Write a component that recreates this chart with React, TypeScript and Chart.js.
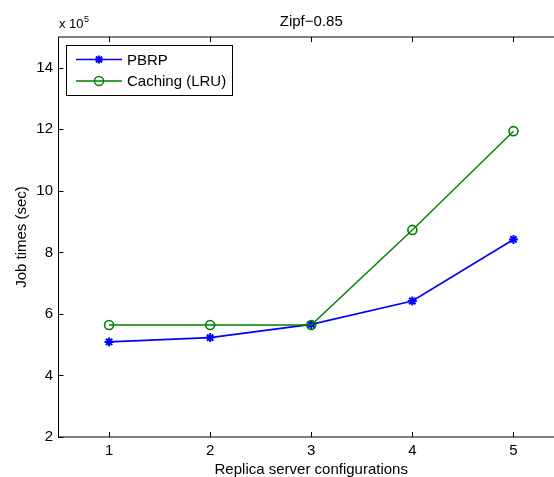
import React, { useEffect, useRef } from "react";
import { Chart, registerables } from "chart.js";

Chart.register(...registerables);

const CATEGORIES = [1, 2, 3, 4, 5];
const PBRP = [5.09, 5.23, 5.66, 6.42, 8.42];
const CACHING = [5.64, 5.64, 5.64, 8.73, 11.94];
const Y_TICKS = [2, 4, 6, 8, 10, 12, 14];
const X_TICKS = [1, 2, 3, 4, 5];

const TITLE = "Zipf\u22120.85";
const X_TITLE = "Replica server configurations";
const Y_TITLE = "Job times (sec)";
const SERIES_NAMES = ["PBRP", "Caching (LRU)"];

const BLUE = "#0000ff";
const GREEN = "#008000";
const FONT = '"Liberation Sans", Arial, Helvetica, sans-serif';

const CANVAS_W = 600;
const CANVAS_H = 477;

const framePlugin = {
  id: "matlabFrame",
  afterDraw(chart: any) {
    const { ctx, chartArea } = chart;
    const { left, top, right, bottom } = chartArea;
    const xs = chart.scales.x;
    const ys = chart.scales.y;
    ctx.save();
    ctx.strokeStyle = "#000";
    ctx.lineWidth = 1;
    ctx.strokeRect(left, top, right - left, bottom - top);
    const tl = 5;
    ctx.beginPath();
    X_TICKS.forEach((v) => {
      const px = Math.round(xs.getPixelForValue(v)) + 0.5;
      ctx.moveTo(px, bottom);
      ctx.lineTo(px, bottom - tl);
      ctx.moveTo(px, top);
      ctx.lineTo(px, top + tl);
    });
    Y_TICKS.forEach((v) => {
      const py = Math.round(ys.getPixelForValue(v)) + 0.5;
      ctx.moveTo(left, py);
      ctx.lineTo(left + tl, py);
      ctx.moveTo(right, py);
      ctx.lineTo(right - tl, py);
    });
    ctx.stroke();

    // titles
    ctx.fillStyle = "#000";
    ctx.font = `15px ${FONT}`;
    ctx.textAlign = "center";
    ctx.textBaseline = "alphabetic";
    const cx = (left + right) / 2;
    ctx.fillText(TITLE, cx, 26);
    ctx.fillText(X_TITLE, cx, 474);
    ctx.save();
    ctx.translate(26, (top + bottom) / 2);
    ctx.rotate(-Math.PI / 2);
    ctx.fillText(Y_TITLE, 0, 0);
    ctx.restore();

    // exponent
    ctx.textAlign = "left";
    ctx.font = `13px ${FONT}`;
    const base = "x 10";
    ctx.fillText(base, 59, 28);
    const w = ctx.measureText(base).width;
    ctx.font = `9px ${FONT}`;
    ctx.fillText("5", 59 + w + 0.5, 22);

    // legend
    const bx = 66.5, by = 45.5, bw = 166, bh = 50;
    ctx.fillStyle = "#fff";
    ctx.fillRect(bx, by, bw, bh);
    ctx.strokeStyle = "#000";
    ctx.lineWidth = 1;
    ctx.strokeRect(bx, by, bw, bh);
    const rows = [
      { name: SERIES_NAMES[0], color: BLUE, y: 59.5, marker: "star" },
      { name: SERIES_NAMES[1], color: GREEN, y: 81, marker: "circle" },
    ];
    rows.forEach((r) => {
      ctx.strokeStyle = r.color;
      ctx.lineWidth = 1.5;
      ctx.beginPath();
      ctx.moveTo(76, r.y);
      ctx.lineTo(122, r.y);
      ctx.stroke();
      if (r.marker === "circle") {
        ctx.beginPath();
        ctx.arc(99, r.y, 4.5, 0, Math.PI * 2);
        ctx.stroke();
      } else {
        ctx.lineWidth = 2;
        ctx.beginPath();
        ctx.moveTo(99 - 4, r.y);
        ctx.lineTo(99 + 4, r.y);
        ctx.moveTo(99, r.y - 4);
        ctx.lineTo(99, r.y + 4);
        ctx.moveTo(99 - 3, r.y - 3);
        ctx.lineTo(99 + 3, r.y + 3);
        ctx.moveTo(99 - 3, r.y + 3);
        ctx.lineTo(99 + 3, r.y - 3);
        ctx.stroke();
      }
      ctx.fillStyle = "#000";
      ctx.font = `15px ${FONT}`;
      ctx.textAlign = "left";
      ctx.textBaseline = "middle";
      ctx.fillText(r.name, 127, r.y + 1);
    });
    ctx.restore();
  },
};

export default function App() {
  const ref = useRef<HTMLCanvasElement | null>(null);
  useEffect(() => {
    if (!ref.current) return;
    const chart = new Chart(ref.current, {
      type: "line",
      data: {
        datasets: [
          {
            label: SERIES_NAMES[0],
            data: CATEGORIES.map((x, i) => ({ x, y: PBRP[i] })),
            borderColor: BLUE,
            backgroundColor: BLUE,
            borderWidth: 1.6,
            pointStyle: "star",
            pointRadius: 4.5,
            pointBorderWidth: 2,
            pointBorderColor: BLUE,
            tension: 0,
            order: 2,
          },
          {
            label: SERIES_NAMES[1],
            data: CATEGORIES.map((x, i) => ({ x, y: CACHING[i] })),
            borderColor: GREEN,
            backgroundColor: "rgba(0,0,0,0)",
            borderWidth: 1.4,
            pointStyle: "circle",
            pointRadius: 4.5,
            pointBorderWidth: 1.6,
            pointBorderColor: GREEN,
            pointBackgroundColor: "rgba(0,0,0,0)",
            tension: 0,
            order: 1,
          },
        ],
      },
      options: {
        responsive: false,
        animation: false,
        devicePixelRatio: 1,
        layout: { padding: { left: 0, top: 37, right: CANVAS_W - 564, bottom: 0 } },
        plugins: {
          legend: { display: false },
          title: { display: false },
          tooltip: { enabled: false },
        },
        scales: {
          x: {
            type: "linear",
            min: 0.5,
            max: 5.5,
            grid: { display: false, drawTicks: false },
            border: { display: false },
            afterBuildTicks: (s: any) => {
              s.ticks = X_TICKS.map((v) => ({ value: v }));
            },
            afterFit: (s: any) => {
              s.height = 40;
            },
            ticks: {
              padding: 5,
              maxRotation: 0,
              color: "#000",
              font: { family: FONT, size: 15 },
            },
          },
          y: {
            type: "linear",
            min: 2,
            max: 15,
            grid: { display: false, drawTicks: false },
            border: { display: false },
            afterBuildTicks: (s: any) => {
              s.ticks = Y_TICKS.map((v) => ({ value: v }));
            },
            afterFit: (s: any) => {
              s.width = 58.5;
            },
            ticks: {
              padding: 5.5,
              color: "#000",
              font: { family: FONT, size: 15 },
            },
          },
        },
      },
      plugins: [framePlugin],
    } as any);
    return () => chart.destroy();
  }, []);

  return (
    <div
      style={{
        position: "fixed",
        left: 0,
        top: 0,
        width: 554,
        height: 477,
        overflow: "hidden",
        background: "#fff",
      }}
    >
      <canvas
        ref={ref}
        width={CANVAS_W}
        height={CANVAS_H}
        style={{ width: CANVAS_W, height: CANVAS_H, display: "block" }}
      />
    </div>
  );
}
